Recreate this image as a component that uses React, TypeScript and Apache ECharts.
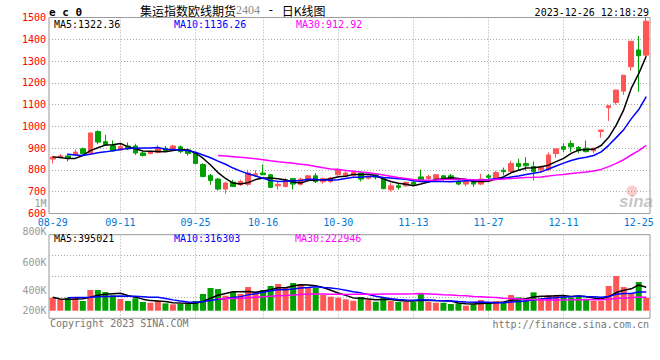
import React, { useEffect, useRef } from 'react';
import * as echarts from 'echarts';

// ---------- DATA ----------
const dates = [
  '08-29','08-30','08-31','09-01','09-04','09-05','09-06','09-07','09-08','09-11',
  '09-12','09-13','09-14','09-15','09-18','09-19','09-20','09-21','09-22','09-25',
  '09-26','09-27','09-28','10-09','10-10','10-11','10-12','10-13','10-16','10-17',
  '10-18','10-19','10-20','10-23','10-24','10-25','10-26','10-27','10-30','10-31',
  '11-01','11-02','11-03','11-06','11-07','11-08','11-09','11-10','11-13','11-14',
  '11-15','11-16','11-17','11-20','11-21','11-22','11-23','11-24','11-27','11-28',
  '11-29','11-30','12-01','12-04','12-05','12-06','12-07','12-08','12-11','12-12',
  '12-13','12-14','12-15','12-18','12-19','12-20','12-21','12-22','12-25','12-26',
];

const opens = [
  850,857,864,869,897,877,976,930,912,892,
  910,910,878,875,880,900,892,906,892,877,
  825,775,758,712,744,732,734,776,786,778,
  727,724,760,734,752,773,746,747,778,773,
  775,786,762,778,760,709,727,727,743,768,
  760,760,773,773,747,735,743,735,773,763,
  799,793,830,830,816,801,801,875,907,921,
  903,900,888,977,1086,1110,1162,1274,1351,1327,
];
const closes = [
  859,864,853,882,875,970,928,915,888,907,
  897,878,866,884,900,889,910,884,876,830,
  770,752,712,740,724,747,786,782,778,720,
  734,755,735,758,773,746,760,763,801,786,
  788,758,768,767,714,727,720,743,734,755,
  770,778,760,760,735,747,735,758,766,788,
  792,830,816,819,793,813,869,897,895,906,
  888,884,900,983,1095,1167,1235,1391,1324,1483,
];
const lows = [
  830,855,839,866,872,875,918,910,884,888,
  891,869,862,872,875,885,890,877,866,826,
  766,732,706,690,721,727,727,767,776,718,
  709,720,710,729,748,740,737,740,773,770,
  770,747,757,756,712,701,710,722,730,747,
  755,758,750,755,730,725,722,730,752,760,
  775,788,796,797,752,793,796,857,882,884,
  877,880,877,948,1025,1100,1144,1256,1159,1312,
];
const highs = [
  866,873,876,895,903,971,982,961,935,918,
  926,920,884,888,915,910,915,912,900,882,
  831,782,763,747,755,755,801,800,825,782,
  748,763,763,765,777,786,766,768,808,793,
  796,793,773,786,768,740,740,748,755,801,
  778,780,775,782,760,752,755,782,782,796,
  811,842,851,859,839,820,881,898,923,935,
  910,935,902,984,1097,1168,1236,1392,1415,1498,
];

const ma5 = [
  860,857,852,853,866.6,888.8,901.6,914,915.2,921.6,
  907,897,887.2,886.4,885,883.4,889.8,893.4,891.8,877.8,
  854,822.4,788,760.8,739.6,735,741.8,755.8,763.4,762.6,
  760,753.8,744.4,740.4,751,753.4,754.4,760,768.6,771.2,
  779.6,779.2,780.2,773.4,759,746.8,739.2,734.2,727.6,735.8,
  744.4,756,759.4,764.6,760.6,756,747.4,747,748.2,758.8,
  767.8,786.8,798.4,809,810,814.2,822,838.2,853.4,876,
  891,894,894.6,912.2,950,1005.8,1076,1174.2,1242.4,1322.36,
];
const ma10 = [
  null,null,872,869,866,872,879,883,888,894.1,
  897.9,899.3,900.6,900.8,903.3,895.2,893.4,890.3,889.1,881.4,
  868.7,856.1,840.7,826.3,808.7,794.5,782.1,771.9,762.1,751.1,
  747.5,747.8,750.1,751.9,756.8,756.7,754.1,752.2,754.5,761.1,
  766.5,766.8,770.1,771,765.1,763.2,759.2,757.2,750.5,747.4,
  745.6,747.6,746.8,746.1,748.2,750.2,751.7,753.2,756.4,759.7,
  761.9,767.1,772.7,778.6,784.4,791,804.4,818.3,831.2,843,
  852.6,858,866.4,882.8,913,948.4,985,1034.4,1077.3,1136.26,
];
const ma30 = [
  null,null,null,null,null,null,null,null,null,null,
  null,null,null,null,null,null,null,null,null,null,
  null,null,866,864,861,858,855,851,847,842.2,
  838,834.4,830.5,826.3,822.9,815.5,809.9,804.8,801.9,797.9,
  794.2,790.2,787,783.1,776.9,771.5,765.1,760.4,755.7,753.2,
  753.2,754.1,755.7,756.3,756.7,756.7,755,754.2,753.8,756.1,
  758,760.5,763.2,765.2,765.9,768.1,771.8,776.2,779.4,783.4,
  786.7,790.9,795.3,802.5,815.2,829.9,847,868.6,888.3,912.92,
];

// volumes in thousands (K)
const volumesK = [
  228,200,228,228,170,363,363,328,270,205,
  170,218,153,140,170,129,112,118,118,170,
  293,398,380,263,328,293,415,328,363,433,
  468,415,486,468,415,398,275,245,228,200,
  175,240,187,158,228,170,153,153,153,293,
  153,140,140,118,129,88,112,187,140,170,
  153,275,234,222,322,222,275,275,245,228,
  257,210,170,170,433,609,415,293,503,228,
];
const volMa5K = [
  235,205,203,205,211,238,270,290,299,306,
  267,238,203,177,170,162,141,134,129,129,
  162,219,272,301,332,332,336,325,345,366,
  401,401,433,454,450,436,408,360,312,269,
  225,218,206,192,198,197,179,172,171,184,
  181,178,176,169,136,123,117,127,131,139,
  152,185,194,211,241,255,255,263,268,249,
  256,243,222,207,248,318,359,384,451,410,
];
const volMa10K = [
  null,null,228,230,232,237,245,250,255,258,
  253,254,247,238,238,215,190,169,153,150,
  162,180,203,215,231,247,278,299,323,349,
  367,369,379,400,408,419,405,397,383,360,
  331,313,283,252,233,211,198,189,182,191,
  189,179,174,170,160,152,148,151,150,138,
  138,151,161,171,190,204,220,229,239,245,
  256,249,243,237,249,287,301,303,329,329,
];
const volMa30K = [
  null,null,null,null,null,null,null,null,null,null,
  null,null,null,null,null,null,null,null,null,null,
  null,null,212,214,216,220,228,236,244,252,
  261,268,276,284,292,294,291,288,287,286,
  287,287,288,289,291,292,294,295,296,300,
  295,287,279,274,267,261,250,246,238,230,
  219,214,206,198,195,189,189,190,190,191,
  194,193,192,193,200,214,223,228,239,237,
];

const dateTickLabels = ['08-29','09-11','09-25','10-16','10-30','11-13','11-27','12-11','12-25'];
const dateGridLines = ['09-11','09-25','10-16','10-30','11-13','11-27','12-11'];
const volTickLabels = ['1M','800K','600K','400K','200K'];

const titleMain = '集运指数欧线期货';
const titleCode = '2404';
const titleTail = '日K线图';
const timestamp = '2023-12-26 12:18:29';
const maLegend = ['MA5:1322.36', 'MA10:1136.26', 'MA30:912.92'];
const volLegend = ['MA5:395021', 'MA10:316303', 'MA30:222946'];
const copyright = 'Copyright 2023 SINA.COM';
const siteUrl = 'http://finance.sina.com.cn';

// ---------- STYLE / LAYOUT ----------
const RED = '#ff5555';
const GREEN = '#00a000';
const MONO = "'DejaVu Sans Mono', 'Liberation Mono', monospace";
const CJK = "'Noto Sans CJK SC', sans-serif";
const volLabelY = [203, 231, 262, 290, 310];

function buildOption() {
  const dotted = { color: '#aaaaaa', type: [1, 2] as any, width: 1 };
  const gridMarks = {
    silent: true,
    z: 1,
    symbol: ['none', 'none'],
    label: { show: false },
    lineStyle: dotted,
    emphasis: { disabled: true },
    data: dateGridLines.map((d) => ({ xAxis: d })),
  };
  const lineSeries = (data: any[], color: string, xi: number, yi: number) => ({
    type: 'line',
    xAxisIndex: xi,
    yAxisIndex: yi,
    data,
    symbol: 'none',
    showSymbol: false,
    connectNulls: false,
    lineStyle: { color, width: 1.5 },
    itemStyle: { color },
    z: 4,
    silent: true,
  });
  const txt = (text: string, x: number, y: number, fill: string, align = 'left', extra: any = {}) => ({
    type: 'text',
    x,
    y,
    silent: true,
    style: {
      text,
      fill,
      fontSize: 10,
      fontFamily: MONO,
      align,
      verticalAlign: 'middle',
      textAlign: align,
      textVerticalAlign: 'middle',
      ...extra,
    },
  });

  const graphics: any[] = [
    txt('e c 0', 49, 12, '#000', 'left', { fontWeight: 'bold', fontSize: 11 }),
    {
      type: 'text',
      x: 140,
      y: 10,
      silent: true,
      style: {
        text: `{a|${titleMain}}{b|${titleCode}}{c| - }{a|${titleTail}}`,
        verticalAlign: 'middle',
        textVerticalAlign: 'middle',
        rich: {
          a: { fontSize: 12, fontFamily: CJK, fill: '#000', color: '#000' },
          b: { fontSize: 12, fontFamily: "'Liberation Serif', serif", fill: '#888', color: '#888' },
          c: { fontSize: 12, fontFamily: MONO, fill: '#000', color: '#000' },
        },
      },
    },
    txt(timestamp, 649, 12, '#000', 'right'),
    txt(maLegend[0], 54, 24, '#000'),
    txt(maLegend[1], 174, 24, '#0000ff'),
    txt(maLegend[2], 296, 24, '#ff00ff'),
    txt(volLegend[0], 54, 238, '#000'),
    txt(volLegend[1], 174, 238, '#0000ff'),
    txt(volLegend[2], 295, 238, '#ff00ff'),
    ...volTickLabels.map((t, i) => txt(t, 46.5, volLabelY[i], '#999999', 'right', { lineHeight: 10 })),
    txt(copyright, 50, 323.5, '#777777'),
    txt(siteUrl, 649, 324, '#777777', 'right'),
    {
      type: 'circle',
      silent: true,
      shape: { cx: 632, cy: 191, r: 5.5 },
      style: { fill: 'rgba(235,90,90,0.30)' },
      z: 0,
    },
    txt('sina', 619, 201, 'rgba(150,150,150,0.55)', 'left', {
      fontSize: 17,
      fontWeight: 'bold',
      fontStyle: 'italic',
      fontFamily: "'Liberation Sans', sans-serif",
    }),
  ];

  return {
    animation: false,
    backgroundColor: '#ffffff',
    grid: [
      { left: 49, top: 17.5, width: 601, height: 196, show: true, borderColor: '#999999', borderWidth: 1, backgroundColor: 'transparent' },
      { left: 49, top: 234.7, width: 601, height: 83.6, show: true, borderColor: '#999999', borderWidth: 1, backgroundColor: 'transparent' },
    ],
    xAxis: [
      {
        type: 'category',
        gridIndex: 0,
        data: dates,
        boundaryGap: true,
        axisLine: { show: false },
        axisTick: { show: false },
        splitLine: { show: false },
        axisLabel: {
          interval: (_i: number, v: string) => dateTickLabels.includes(v),
          color: '#0078d7',
          fontFamily: MONO,
          fontSize: 10,
          lineHeight: 10,
          margin: 4,
        },
      },
      {
        type: 'category',
        gridIndex: 1,
        data: dates,
        boundaryGap: true,
        axisLine: { show: false },
        axisTick: { show: false },
        splitLine: { show: false },
        axisLabel: { show: false },
      },
    ],
    yAxis: [
      {
        type: 'value',
        gridIndex: 0,
        min: 600,
        max: 1500,
        interval: 100,
        axisLine: { show: false },
        axisTick: { show: false },
        axisLabel: {
          color: '#ff0000',
          fontFamily: MONO,
          fontSize: 10,
          lineHeight: 10,
          margin: 3,
          formatter: (v: number) => String(v),
        },
        splitLine: { show: true, lineStyle: dotted },
      },
      {
        type: 'value',
        gridIndex: 1,
        min: -133,
        max: 1333,
        axisLine: { show: false },
        axisTick: { show: false },
        axisLabel: { show: false },
        splitLine: { show: false },
      },
      {
        type: 'value',
        gridIndex: 1,
        min: 0,
        max: 4,
        interval: 1,
        position: 'left',
        axisLine: { show: false },
        axisTick: { show: false },
        axisLabel: { show: false },
        splitLine: { show: true, lineStyle: dotted },
      },
    ],
    graphic: graphics,
    series: [
      {
        type: 'candlestick',
        xAxisIndex: 0,
        yAxisIndex: 0,
        data: dates.map((_, i) => [opens[i], closes[i], lows[i], highs[i]]),
        barWidth: 5,
        itemStyle: {
          color: RED,
          color0: GREEN,
          borderColor: RED,
          borderColor0: GREEN,
          borderWidth: 1,
        },
        markLine: gridMarks,
        z: 2,
        silent: true,
      },
      lineSeries(ma5, '#000000', 0, 0),
      lineSeries(ma10, '#0000ff', 0, 0),
      lineSeries(ma30, '#ff00ff', 0, 0),
      {
        type: 'bar',
        xAxisIndex: 1,
        yAxisIndex: 1,
        barWidth: 6,
        data: volumesK.map((v, i) => ({
          value: v,
          itemStyle: { color: closes[i] >= opens[i] ? RED : GREEN },
        })),
        markLine: gridMarks,
        z: 2,
        silent: true,
      },
      lineSeries(volMa5K, '#000000', 1, 1),
      lineSeries(volMa10K, '#0000ff', 1, 1),
      lineSeries(volMa30K, '#ff00ff', 1, 1),
    ],
  };
}

export default function App() {
  const ref = useRef<HTMLDivElement>(null);
  useEffect(() => {
    if (!ref.current) return;
    const chart = echarts.init(ref.current, null, { renderer: 'svg' });
    chart.setOption(buildOption() as any);
    return () => chart.dispose();
  }, []);
  return (
    <div
      ref={ref}
      style={{ position: 'fixed', left: 0, top: 0, width: 660, height: 360, background: '#fff' }}
    />
  );
}
